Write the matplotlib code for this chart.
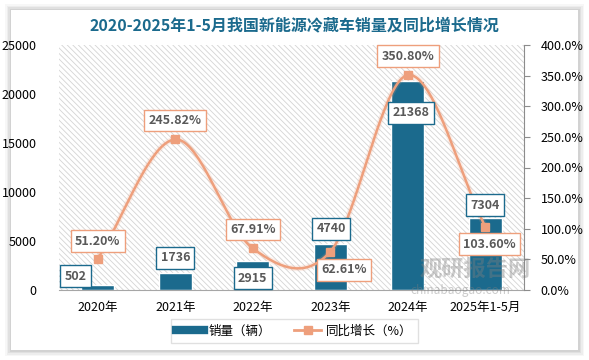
import numpy as np
import matplotlib
matplotlib.use("Agg")
from matplotlib import pyplot as plt
from matplotlib.patches import Rectangle
from matplotlib.lines import Line2D

plt.rcParams['font.family'] = ['Noto Sans CJK SC', 'DejaVu Sans']
plt.rcParams['hatch.color'] = '#d4d4d4'
plt.rcParams['hatch.linewidth'] = 0.6

# data
years = ["2020年", "2021年", "2022年", "2023年", "2024年", "2025年1-5月"]
sales = [502, 1736, 2915, 4740, 21368, 7304]
growth = [51.20, 245.82, 67.91, 62.61, 350.80, 103.60]
sales_labels = ["502", "1736", "2915", "4740", "21368", "7304"]
growth_labels = ["51.20%", "245.82%", "67.91%", "62.61%", "350.80%", "103.60%"]

bar_color = "#1b6a8d"
line_color = "#ee9f7c"
text_gray = "#595959"

fig = plt.figure(figsize=(5.89, 3.6), dpi=100)
fig.patch.set_facecolor("white")

# card with soft shadow
for i, a in enumerate([0.03, 0.04, 0.05, 0.06]):
    d = (4 - i) * 1.5
    fig.patches.append(Rectangle(((11 - d) / 589, 1 - (350 + d) / 360), (567 + 2 * d) / 589, (340 + 2 * d) / 360,
                                 transform=fig.transFigure, facecolor="black", alpha=a, edgecolor="none", zorder=-10))
fig.patches.append(Rectangle((11 / 589, 1 - 350 / 360), 567 / 589, 340 / 360,
                             transform=fig.transFigure, facecolor="white", edgecolor="none", zorder=-9))

ax = fig.add_axes([59 / 589, 1 - 290 / 360, 465 / 589, 245 / 360])
ax.set_facecolor("none")
ax.add_patch(Rectangle((0, 0), 1, 1, transform=ax.transAxes, facecolor="white",
                       hatch="\\\\\\\\\\\\", edgecolor="#d4d4d4", linewidth=0, zorder=0))

x = np.arange(len(years))
ax.bar(x, sales, width=0.43, color=bar_color, edgecolor="white", linewidth=1, zorder=2)
ax.set_xlim(-0.5, len(years) - 0.5)
ax.set_ylim(0, 25000)
ax.set_yticks(np.arange(0, 25001, 5000))
ax.set_xticks(x)
ax.set_xticklabels(years)
ax.tick_params(axis="y", length=0, labelsize=9, pad=16, labelcolor="black")
ax.tick_params(axis="x", length=0, labelsize=9, pad=8)
for s in ["top", "left", "right"]:
    ax.spines[s].set_visible(False)
ax.spines["bottom"].set_color("#a6a6a6")

ax2 = ax.twinx()
ax2.set_ylim(0, 400)
ax2.set_yticks(np.arange(0, 401, 50))
ax2.set_yticklabels([f"{v:.1f}%" for v in np.arange(0, 401, 50)])
ax2.tick_params(axis="y", length=4, color="#8c8c8c", labelsize=9, pad=8)
for s in ["top", "left", "bottom"]:
    ax2.spines[s].set_visible(False)
ax2.spines["right"].set_color("#8c8c8c")


# smoothed line (catmull-rom drawing of the 6 points, like Excel's smooth line)
def smooth(xs, ys, n=40):
    px = np.concatenate([[2 * xs[0] - xs[1]], xs, [2 * xs[-1] - xs[-2]]])
    py = np.concatenate([[2 * ys[0] - ys[1]], ys, [2 * ys[-1] - ys[-2]]])
    outx, outy = [], []
    t = np.linspace(0, 1, n)
    for i in range(1, len(px) - 2):
        for p, out in ((px, outx), (py, outy)):
            p0, p1, p2, p3 = p[i - 1], p[i], p[i + 1], p[i + 2]
            out.extend(0.5 * ((2 * p1) + (-p0 + p2) * t + (2 * p0 - 5 * p1 + 4 * p2 - p3) * t ** 2
                              + (-p0 + 3 * p1 - 3 * p2 + p3) * t ** 3))
    return np.array(outx), np.array(outy)


sx, sy = smooth(x.astype(float), np.array(growth, dtype=float))
ax2.plot(sx, sy, color=line_color, linewidth=4, alpha=0.18, zorder=3)
ax2.plot(sx, sy, color=line_color, linewidth=1.8, zorder=4)
ax2.plot(x, growth, linestyle="none", marker="s", markersize=6, color=line_color, zorder=5)

# watermark (drawn over the bars, faint)
ax2.text(0.775, 0.055, "观研报告网", transform=ax2.transAxes, fontsize=16, fontweight="bold",
         color="#7f7f7f", alpha=0.4, zorder=5.5)
ax2.text(0.755, -0.015, "chinabaogao.com", transform=ax2.transAxes, fontsize=8.5,
         color="#7f7f7f", alpha=0.4, zorder=5.5)

# data labels (offsets in points); all on ax2 so the boxes sit above the line
bar_off = [(-16, 6.5), (0, 10.8), (0, -12), (0.5, 10.5), (2.4, -23.3), (0, 9.6)]
line_off = [(0, 12.7), (0, 13.6), (0, 13.6), (9.9, -13.2), (0, 13.6), (3, -12.6)]
for i in range(len(years)):
    ax2.annotate(sales_labels[i], (x[i], sales[i]), xycoords=ax.transData, xytext=bar_off[i],
                 textcoords="offset points", ha="center", va="center", fontsize=9, fontweight="bold",
                 color=text_gray, zorder=6,
                 bbox=dict(boxstyle="square,pad=0.35", fc="white", ec=bar_color, lw=1))
    ax2.annotate(growth_labels[i], (x[i], growth[i]), xytext=line_off[i], textcoords="offset points",
                 ha="center", va="center", fontsize=9, fontweight="bold", color=text_gray, zorder=6,
                 bbox=dict(boxstyle="square,pad=0.35", fc="white", ec=line_color, lw=1))

fig.text(0.5, 0.93, "2020-2025年1-5月我国新能源冷藏车销量及同比增长情况", ha="center", va="center",
         fontsize=11.5, fontweight="bold", color="#1b6a8d")

# legend
handles = [Line2D([], [], color=bar_color, linewidth=6),
           Line2D([], [], color=line_color, linewidth=2, marker="s", markersize=6)]
fig.legend(handles, ["销量（辆）", "同比增长（%）"], loc="center", bbox_to_anchor=(0.5, 0.081),
           ncol=2, frameon=True, fontsize=9, edgecolor="#d9d9d9", fancybox=False,
           handlelength=2.2, handletextpad=0.4, columnspacing=1.8, borderpad=0.45, borderaxespad=0)

fig.savefig("out.png", dpi=100)
